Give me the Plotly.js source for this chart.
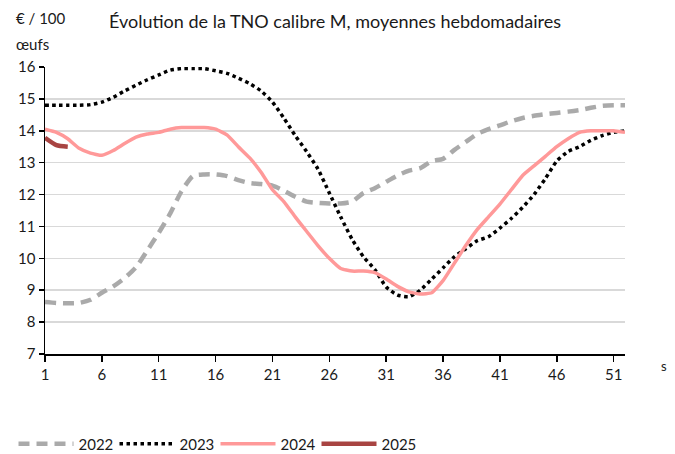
<!DOCTYPE html>
<html>
<head>
<meta charset="utf-8">
<script src="https://cdn.plot.ly/plotly-3.0.1.min.js"></script>
<style>html,body{margin:0;padding:0;background:#fff;}#chart{width:675px;height:454px;}</style>
</head>
<body>
<div id="chart"></div>
<script>
const weeks = Array.from({length: 52}, (_, i) => i + 1);
const tickWeeks = [1, 6, 11, 16, 21, 26, 31, 36, 41, 46, 51];
const yTicks = [7, 8, 9, 10, 11, 12, 13, 14, 15, 16];

const v2022 = [8.63, 8.6, 8.59, 8.6, 8.7, 8.92, 9.12, 9.38, 9.72, 10.25, 10.8, 11.4, 12.1, 12.58, 12.63, 12.63, 12.58, 12.45, 12.36, 12.33, 12.28, 12.12, 11.93, 11.78, 11.74, 11.72, 11.72, 11.78, 12.05, 12.2, 12.4, 12.6, 12.75, 12.83, 13.05, 13.12, 13.4, 13.65, 13.9, 14.05, 14.17, 14.3, 14.4, 14.47, 14.52, 14.56, 14.6, 14.65, 14.72, 14.78, 14.8, 14.8];
const v2023 = [14.8, 14.8, 14.8, 14.8, 14.82, 14.9, 15.05, 15.25, 15.43, 15.6, 15.75, 15.9, 15.95, 15.95, 15.95, 15.88, 15.8, 15.65, 15.48, 15.25, 14.9, 14.4, 13.85, 13.35, 12.8, 12.05, 11.3, 10.6, 10.05, 9.65, 9.1, 8.85, 8.8, 9.0, 9.35, 9.7, 10.05, 10.3, 10.55, 10.68, 10.95, 11.25, 11.6, 12.0, 12.5, 13.05, 13.35, 13.5, 13.7, 13.85, 13.95, 14.0];
const v2024 = [14.05, 13.95, 13.75, 13.45, 13.3, 13.23, 13.38, 13.6, 13.8, 13.9, 13.95, 14.05, 14.1, 14.1, 14.1, 14.05, 13.87, 13.5, 13.15, 12.7, 12.15, 11.78, 11.3, 10.85, 10.4, 10.0, 9.68, 9.6, 9.6, 9.55, 9.35, 9.12, 8.95, 8.88, 8.92, 9.3, 9.85, 10.4, 10.9, 11.3, 11.7, 12.15, 12.6, 12.9, 13.2, 13.5, 13.75, 13.95, 14.0, 14.0, 14.0, 13.95];
const v2025 = [13.78, 13.55, 13.5];
const seriesNames = ['2022', '2023', '2024', '2025'];

const FONT = 'Lato, "Open Sans", sans-serif';
const W = 675, H = 454;
const M = {l: 45, r: 50, t: 67, b: 100};
const PW = W - M.l - M.r, PH = H - M.t - M.b;
function px(x) { return (x - M.l) / PW; }
function py(y) { return (H - M.b - y) / PH; }

const traces = [
  {x: weeks, y: v2022, name: seriesNames[0], type: 'scatter', mode: 'lines',
   line: {color: '#aaaaaa', width: 4.5, dash: '11px,7px', shape: 'spline', smoothing: 0.6}},
  {x: weeks, y: v2023, name: seriesNames[1], type: 'scatter', mode: 'lines',
   line: {color: '#000000', width: 3.5, dash: 'dot', shape: 'spline', smoothing: 0.6}},
  {x: weeks, y: v2024, name: seriesNames[2], type: 'scatter', mode: 'lines',
   line: {color: '#ff9999', width: 3.5, shape: 'spline', smoothing: 0.4}},
  {x: weeks.slice(0, v2025.length), y: v2025, name: seriesNames[3], type: 'scatter', mode: 'lines',
   line: {color: '#a84442', width: 4.5, shape: 'spline', smoothing: 0.6}}
];

const txtFont = {family: FONT, size: 15, color: '#1a1a1a'};

const layout = {
  width: W, height: H,
  margin: M,
  paper_bgcolor: '#ffffff', plot_bgcolor: '#ffffff',
  font: txtFont,
  showlegend: true,
  legend: {orientation: 'h', xref: 'container', yref: 'container', x: 0.02, y: 10 / H,
           xanchor: 'left', yanchor: 'middle', font: txtFont,
           itemwidth: 55, entrywidth: 31, entrywidthmode: 'pixels', tracegroupgap: 0},
  xaxis: {range: [1, 52], tickvals: tickWeeks, ticktext: tickWeeks.map(String),
          showgrid: false, zeroline: false, showline: true, linecolor: '#000', linewidth: 1.5,
          ticks: 'outside', ticklen: 6, tickcolor: '#000', tickwidth: 1.5,
          tickfont: txtFont, fixedrange: true},
  yaxis: {range: [7, 16], tickvals: yTicks, ticktext: yTicks.map(String),
          showgrid: true, gridcolor: '#d9d9d9', gridwidth: 1.5, zeroline: false,
          showline: true, linecolor: '#000', linewidth: 1.5,
          ticks: 'outside', ticklen: 5, tickcolor: '#000', tickwidth: 1.5,
          tickfont: txtFont, fixedrange: true},
  annotations: [
    {xref: 'paper', yref: 'paper', x: px(14), y: py(18), xanchor: 'left', yanchor: 'middle',
     text: '€ / 100', showarrow: false, font: txtFont},
    {xref: 'paper', yref: 'paper', x: px(14), y: py(44), xanchor: 'left', yanchor: 'middle',
     text: 'œufs', showarrow: false, font: txtFont},
    {xref: 'paper', yref: 'paper', x: px(107), y: py(21), xanchor: 'left', yanchor: 'middle',
     text: 'Évolution de la TNO calibre M, moyennes hebdomadaires', showarrow: false,
     font: {family: FONT, size: 18, color: '#1a1a1a'}},
    {xref: 'paper', yref: 'paper', x: px(659), y: py(366), xanchor: 'left', yanchor: 'middle',
     text: 's', showarrow: false, font: {family: FONT, size: 13, color: '#1a1a1a'}}
  ]
};

Plotly.newPlot('chart', traces, layout, {displayModeBar: false, staticPlot: true});
</script>
</body>
</html>
